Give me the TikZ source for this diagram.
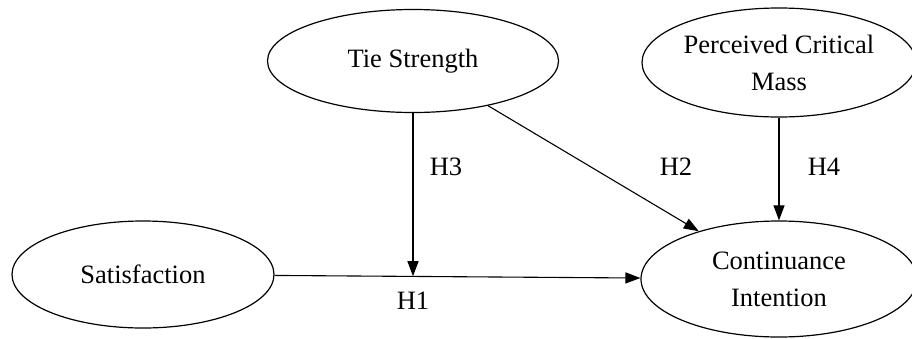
\documentclass[tikz,border=0pt]{standalone}
\usepackage{fontspec}
\setmainfont{Liberation Serif}
\usetikzlibrary{shapes.geometric,arrows.meta}
\begin{document}
\begin{tikzpicture}[x=1pt,y=-1pt,
  latent/.style={ellipse,draw,line width=1.2pt,inner sep=0pt,align=center,
    font=\fontsize{26.5}{37}\selectfont},
  hpath/.style={line width=1.1pt,-{Triangle[length=15pt,width=11pt]}},
  hlabel/.style={font=\fontsize{26.5}{32}\selectfont,inner sep=0pt}]
\useasboundingbox (0,0) rectangle (912,338);
\node[latent,minimum width=291pt,minimum height=103pt] (tie) at (413,61) {Tie Strength};
\node[latent,minimum width=274pt,minimum height=109pt] (pcm) at (779,62.5) {Perceived Critical\\Mass};
\node[latent,minimum width=262pt,minimum height=107pt] (sat) at (143,274.5) {Satisfaction};
\node[latent,minimum width=276pt,minimum height=116pt] (ci) at (779,279) {Continuance\\Intention};
\draw[hpath] (sat) -- (ci);
\path (sat.east) -- (ci.west) coordinate[pos=0.379] (j);
\draw[hpath] (tie.south) -- (tie.south |- j);
\draw[hpath] (tie) -- (ci);
\draw[hpath] (pcm) -- (ci);
\node[hlabel] (h3) at (446,167) {H3};
\node[hlabel] (h2) at (676,167) {H2};
\node[hlabel] (h4) at (824,167) {H4};
\node[hlabel] (h1) at (413,301) {H1};
\end{tikzpicture}
\end{document}
